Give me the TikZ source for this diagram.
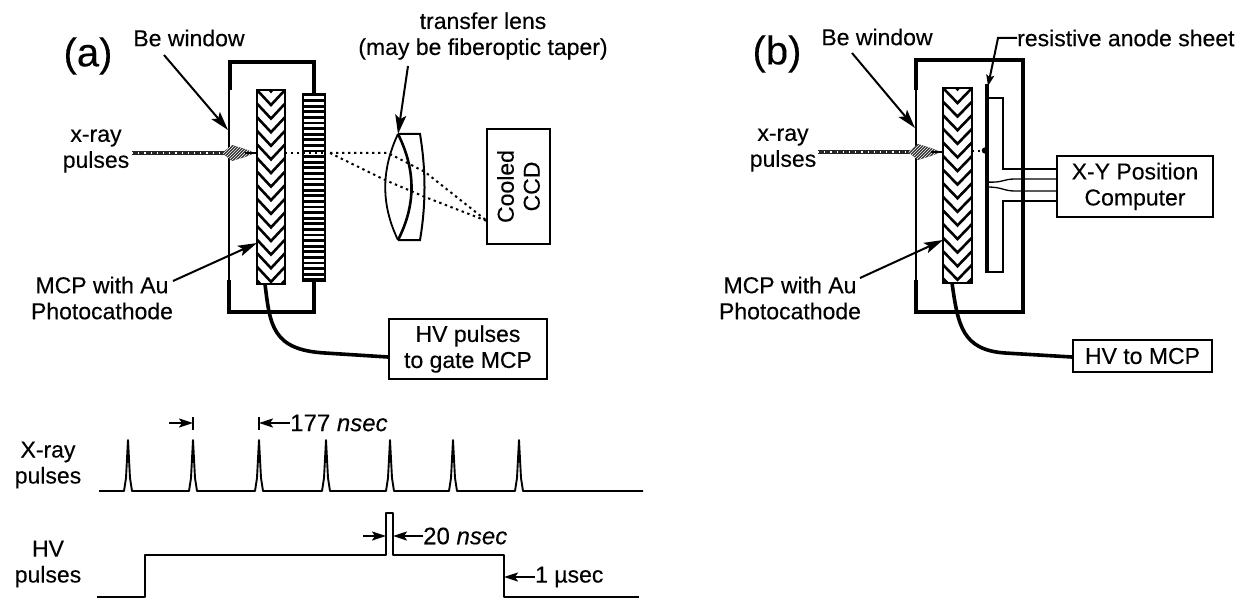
\documentclass[tikz,border=0pt]{standalone}
\usepackage{fontspec}
\setmainfont{Liberation Sans}[FakeBold=0.25]
\usetikzlibrary{arrows.meta,calc,patterns}
\tikzset{
  lbl/.style={inner sep=0pt,align=center,font=\fontsize{23}{26}\selectfont},
  bigl/.style={inner sep=0pt,font=\fontsize{40}{44}\selectfont},
  tlbl/.style={inner sep=0pt,anchor=west,font=\fontsize{24}{26}\selectfont},
  boxn/.style={draw=black,line width=2.2pt,inner sep=0pt,align=center,font=\fontsize{23}{26}\selectfont},
  wall/.style={line width=4.4pt,line cap=butt},
  thinwall/.style={line width=1.6pt},
  ptr/.style={line width=2pt,-{Stealth[length=19pt,width=11pt,inset=4pt]}},
  tptr/.style={line width=2pt,-{Stealth[length=14pt,width=9pt,inset=3pt]}},
  wire/.style={line width=3.6pt},
  lead/.style={line width=1.3pt},
  ray/.style={line width=2pt,dash pattern=on 2.4pt off 3.6pt},
  trace/.style={line width=1.9pt,line join=round},
  tick/.style={line width=1.8pt},
  chevron/.style={draw=black,line width=1.6pt,fill=white,inner sep=0pt,path picture={
    \foreach \k in {-1,...,16}{
      \draw[line width=2.6pt] ($(path picture bounding box.north west)+(0,\k*13.6)$)
        -- ($(path picture bounding box.north)+(0,\k*13.6+15)$)
        -- ($(path picture bounding box.north east)+(0,\k*13.6)$);
    }}},
  stripes/.style={draw=black,line width=2pt,fill=white,inner sep=0pt,path picture={
    \foreach \k in {0,...,34}{
      \draw[line width=2.9pt] ($(path picture bounding box.north west)+(0,\k*5.6+1)$)
        -- ($(path picture bounding box.north east)+(0,\k*5.6+1)$);
    }}},
  beam/.pic={
    \draw[line width=4.2pt,black!85] (-125,0) -- (-10,0);
    \draw[line width=1.3pt,white,dash pattern=on 1.2pt off 5pt] (-125,0) -- (-10,0);
    \fill[black!80] (-35,0) -- (-25,-8) -- (-12,-4) -- (-2,0) -- (-12,4) -- (-25,8) -- cycle;
    \path[pattern=north east lines,pattern color=white]
      (-35,0) -- (-25,-8) -- (-12,-4) -- (-2,0) -- (-12,4) -- (-25,8) -- cycle;
    \draw[line width=2pt] (-12,0) -- (0,0);
  },
}
\begin{document}
\begin{tikzpicture}[x=1pt,y=-1pt]
\useasboundingbox (0,0) rectangle (1245,599);

%% ---------- panel (a) ----------
\node[bigl] (tagA) at (88,56) {(a)};
\node[lbl] (beA) at (189,38) {Be window};
\node[lbl] (xrayA) at (96,151) {x-ray\\pulses};
\node[lbl] (mcplA) at (102,298) {MCP with Au\\Photocathode};
\node[lbl] (lensl) at (483,36) {transfer lens\\(may be fiberoptic taper)};

\draw[wall] (230,90) -- (230,62) -- (314,62) -- (314,94);
\draw[wall] (229,280) -- (229,312) -- (314,312) -- (314,281);
\draw[thinwall] (229,90) -- (229,280);

\node[chevron,minimum width=28pt,minimum height=194pt] (mcpA) at (271,187) {};
\node[stripes,minimum width=22pt,minimum height=187pt] (phos) at (314,187.5) {};

\draw[ray] (285,153) -- (phos.east |- 0,153);
\draw[ray] (330,153) coordinate (focA) -- (388,153) -- (425,172) -- (487,221) coordinate (ccdHit);
\draw[ray] (focA) -- (385,180) -- (425,197) -- (ccdHit);

\pic at (257,153) {beam};

\coordinate (lensT) at (398,134);
\coordinate (lensB) at (398,240);
\coordinate (lensTR) at (420,134);
\coordinate (lensBR) at (420,240);
\draw[line width=1.8pt] (lensT) .. controls (381,170) and (381,205) .. (lensB);
\draw[line width=2.6pt] (lensT) .. controls (416,170) and (416,205) .. (lensB);
\draw[line width=2pt] (lensT) -- (lensTR) .. controls (426,170) and (426,205) .. (lensBR) -- (lensB);

\node[boxn,rotate=90,minimum width=115pt,minimum height=63pt] (ccd) at (518.5,186.5) {Cooled\\CCD};
\node[boxn,minimum width=158pt,minimum height=60pt] (hvA) at (468,349) {HV pulses\\to gate MCP};

\coordinate (beAs) at (164,55);
\coordinate (beAe) at (228,130);
\draw[ptr] (beAs) -- (beAe);
\coordinate (mcAs) at (173,281);
\coordinate (mcAe) at (257,243);
\draw[ptr] (mcAs) -- (mcAe);
\coordinate (lenss) at (408,66);
\draw[ptr] (lenss) -- (lensT);
\coordinate (wireA) at (265,284);
\draw[wire] (wireA) .. controls (270,325) and (272,350) .. (325,353) -- (hvA.west |- 0,357);

%% ---------- panel (b) ----------
\node[bigl] (tagB) at (777,54) {(b)};
\node[lbl] (beB) at (877,37) {Be window};
\node[lbl] (xrayB) at (783,150) {x-ray\\pulses};
\node[lbl] (mcplB) at (790,298) {MCP with Au\\Photocathode};
\node[lbl,anchor=west] (anl) at (1017,38) {resistive anode sheet};

\draw[wall] (916,90) -- (916,60) -- (1023,60) -- (1023,312) -- (916,312) -- (916,280);
\draw[thinwall] (916,90) -- (916,280);

\node[chevron,minimum width=29pt,minimum height=195pt] (mcpB) at (957.5,185.5) {};

\node[boxn,minimum width=156pt,minimum height=61pt] (xy) at (1135,186.5) {X-Y Position\\Computer};
\node[boxn,minimum width=139pt,minimum height=32pt] (hvB) at (1142.5,356) {HV to MCP};

\draw[line width=3.2pt] (987,84) -- (987,273);
\draw[lead] (987,98) -- (1003,98) -- (1003,169) -- (xy.west |- 0,169);
\draw[lead] (987,272) -- (1003,272) -- (1003,201) -- (xy.west |- 0,201);
\draw[lead] (987,182) .. controls (1003,183) and (1003,179) .. (1015,179) -- (xy.west |- 0,179);
\draw[lead] (987,187) .. controls (1003,187) and (1003,191) .. (1015,191) -- (xy.west |- 0,191);

\draw[ray] (972,151) -- (985,151);
\fill (985,150.5) circle (3.2pt);
\pic at (943,152) {beam};

\coordinate (beBs) at (852,53);
\coordinate (beBe) at (915,128);
\draw[ptr] (beBs) -- (beBe);
\coordinate (mcBs) at (860,278);
\coordinate (mcBe) at (943,240);
\draw[ptr] (mcBs) -- (mcBe);
\draw[line width=2pt,-{Stealth[length=11pt,width=8pt,inset=2pt]}] (anl.west) -- (998,38) -- (988,86);
\coordinate (wireB) at (952,283);
\draw[wire] (wireB) .. controls (958,325) and (962,350) .. (1005,353) -- (hvB.west |- 0,357);

%% ---------- timing ----------
\node[lbl] (xt) at (48,465) {X-ray\\pulses};
\node[lbl] (hvt) at (48,564) {HV\\pulses};

\draw[trace] (99,491)
  \foreach \x in {128,193,259,326,390,453,519}{
    -- (\x-4,491) -- (\x-2,478) -- (\x,440) -- (\x+2,478) -- (\x+4,491)
  } -- (643,491);
\draw[trace] (97,597) -- (145,597) -- (145,555) -- (386,555) -- (386,513) -- (393,513)
  -- (393,555) -- (504,555) -- (504,597) -- (639,597);

\node[tlbl] (t177) at (290,423) {177 \textit{nsec}};
\node[tlbl] (t20) at (423,536) {20 \textit{nsec}};
\node[tlbl,font=\fontsize{23}{26}\selectfont] (t1) at (535,577) {1 µsec};

\coordinate (a1) at (169,423); \coordinate (a1e) at (193,423);
\draw[tptr] (a1) -- (a1e);
\draw[tick] (193,417) -- (193,430);
\coordinate (a2e) at (259,423);
\draw[tptr] (t177.west) -- (a2e);
\draw[tick] (259,417) -- (259,430);
\coordinate (a3) at (363,536); \coordinate (a3e) at (386,536);
\draw[tptr] (a3) -- (a3e);
\coordinate (a4e) at (393,536);
\draw[tptr] (t20.west) -- (a4e);
\coordinate (a5e) at (504,577);
\draw[tptr] (t1.west) -- (a5e);
\end{tikzpicture}
\end{document}
